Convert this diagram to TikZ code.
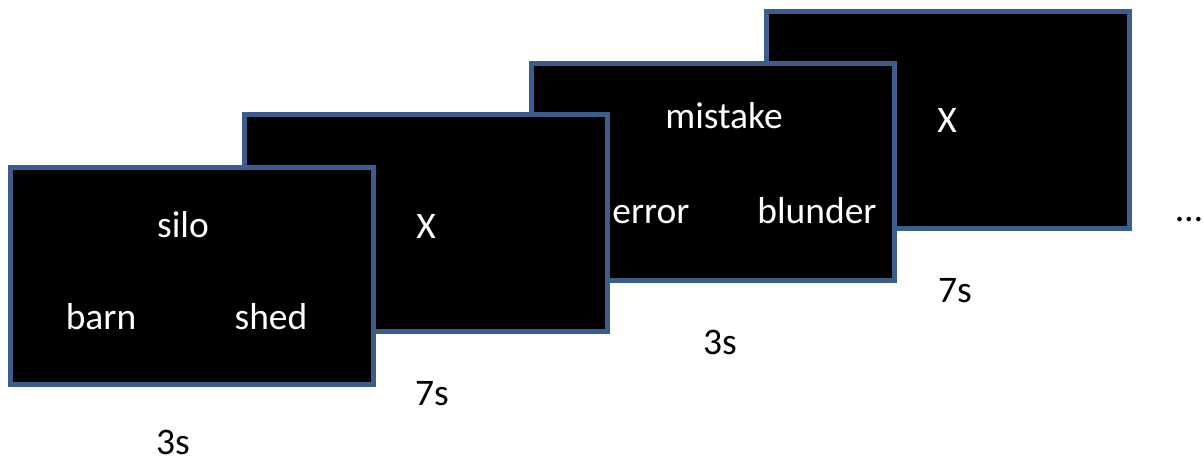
\documentclass[tikz,border=0pt]{standalone}
\usepackage{fontspec}
\setmainfont{Carlito}
\definecolor{frameblue}{RGB}{59,94,140}

\tikzset{
  screen/.style={draw=frameblue, line width=2.5pt, fill=black, miter limit=10,
    minimum width=181.5pt, minimum height=108.5pt, inner sep=0pt},
  word/.style={text=white, anchor=base, inner sep=0pt, font=\fontsize{18.75}{22}\selectfont},
  timing/.style={text=black, anchor=base, inner sep=0pt, font=\fontsize{18.75}{22}\selectfont}
}

\begin{document}
\begin{tikzpicture}[x=0.5pt,y=-0.5pt]

    % Fix the page to the reference size
    \useasboundingbox (0,0) rectangle (1203,462);

    % Draw the four screens, back one first
    \node[screen] (s4) at (948,119.5) {};
    \node[screen] (s3) at (712.5,171.5) {};
    \node[screen] (s2) at (426,223) {};
    \node[screen] (s1) at (192,275.5) {};

    % Words shown on the first screen
    \node[word] (silo) at (183,237) {silo};
    \node[word] (barn) at (101,329) {barn};
    \node[word] (shed) at (271,329) {shed};

    % Fixation cross on the second screen
    \node[word] (cross1) at (426,238) {X};

    % Words shown on the third screen
    \node[word] (mistake) at (724,128) {mistake};
    \node[word] (error) at (651,223) {error};
    \node[word] (blunder) at (817,223) {blunder};

    % Fixation cross on the fourth screen
    \node[word] (cross2) at (947,132) {X};

    % Durations below each screen
    \node[timing] (t1) at (173,454) {3s};
    \node[timing] (t2) at (432,405) {7s};
    \node[timing] (t3) at (720,354) {3s};
    \node[timing] (t4) at (955,302) {7s};

    % Further trials
    \node[timing] (more) at (1189,221) {…};

\end{tikzpicture}
\end{document}
